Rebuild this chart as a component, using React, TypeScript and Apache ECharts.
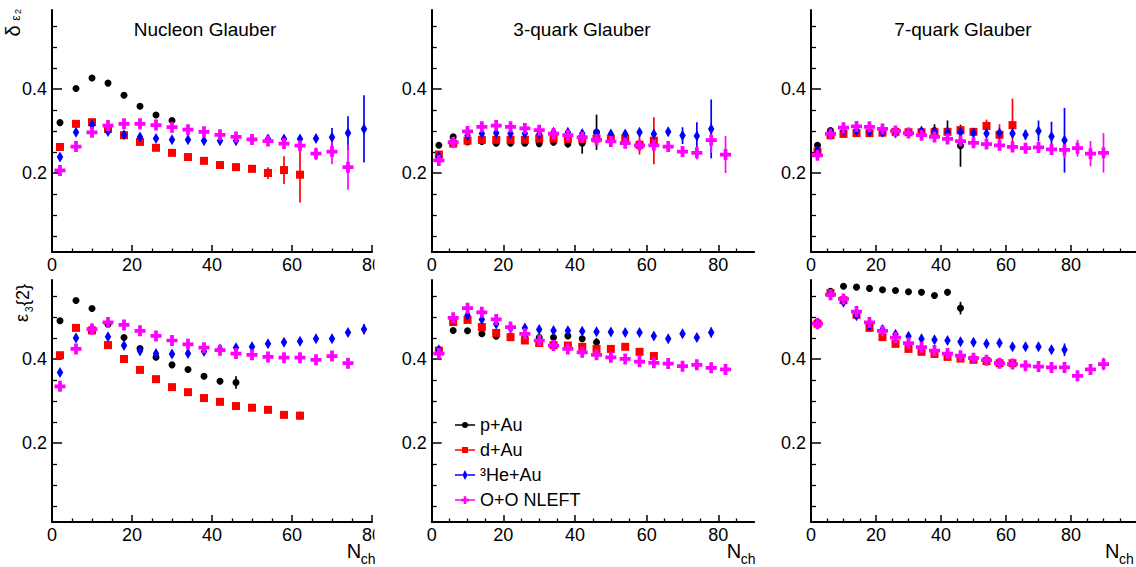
import React, { useEffect, useRef } from "react";
import * as echarts from "echarts";

// ---------- data ----------
const NCH = [2, 6, 10, 14, 18, 22, 26, 30, 34, 38, 42, 46, 50, 54, 58, 62, 66, 70, 74, 78, 82, 86, 90];

const SPECIES = ["p+Au", "d+Au", "³He+Au", "O+O NLEFT"];
const PANEL_TITLES = ["Nucleon Glauber", "3-quark Glauber", "7-quark Glauber"];
const X_TICKS = [0, 20, 40, 60, 80];
const X_MINOR = [5, 10, 15, 25, 30, 35, 45, 50, 55, 65, 70, 75, 85, 90, 95];
const Y_TICKS = [0.2, 0.4];
const Y_MINOR = [0.05, 0.1, 0.15, 0.25, 0.3, 0.35, 0.45, 0.5, 0.55];
const X_MAX = [80, 90, 100];
const Y_MIN = 0.012;
const Y_MAX = 0.588;

// Nucleon Glauber, delta_eps2
const nucE2_pAu = [0.320, 0.401, 0.426, 0.414, 0.385, 0.359, 0.338, 0.325];
const nucE2_pAu_err = [0.003, 0.003, 0.003, 0.003, 0.003, 0.003, 0.004, 0.006];
const nucE2_dAu = [0.262, 0.317, 0.321, 0.305, 0.290, 0.274, 0.260, 0.248, 0.238, 0.229, 0.219, 0.214, 0.210, 0.200, 0.207, 0.196];
const nucE2_dAu_err = [0.003, 0.003, 0.003, 0.003, 0.003, 0.003, 0.003, 0.003, 0.003, 0.003, 0.004, 0.004, 0.006, 0.014, 0.033, 0.066];
const nucE2_HeAu = [0.238, 0.297, 0.315, 0.299, 0.291, 0.286, 0.282, 0.279, 0.279, 0.277, 0.277, 0.277, 0.279, 0.281, 0.281, 0.281, 0.282, 0.285, 0.295, 0.305];
const nucE2_HeAu_err = [0.006, 0.005, 0.004, 0.003, 0.003, 0.003, 0.003, 0.003, 0.003, 0.003, 0.003, 0.003, 0.003, 0.004, 0.005, 0.006, 0.010, 0.022, 0.040, 0.080];
const nucE2_OO = [0.206, 0.263, 0.297, 0.313, 0.317, 0.317, 0.314, 0.309, 0.303, 0.298, 0.291, 0.286, 0.280, 0.276, 0.270, 0.265, 0.246, 0.251, 0.214];
const nucE2_OO_err = [0.004, 0.003, 0.003, 0.003, 0.003, 0.003, 0.003, 0.003, 0.003, 0.003, 0.003, 0.003, 0.004, 0.005, 0.008, 0.012, 0.015, 0.030, 0.054];

// Nucleon Glauber, eps3{2}
const nucE3_pAu = [0.491, 0.539, 0.520, 0.482, 0.451, 0.425, 0.404, 0.386, 0.375, 0.359, 0.347, 0.344];
const nucE3_pAu_err = [0.003, 0.003, 0.003, 0.003, 0.003, 0.003, 0.003, 0.003, 0.003, 0.004, 0.006, 0.015];
const nucE3_dAu = [0.409, 0.474, 0.468, 0.433, 0.400, 0.374, 0.352, 0.333, 0.321, 0.307, 0.298, 0.288, 0.284, 0.279, 0.267, 0.265];
const nucE3_dAu_err = [0.003, 0.003, 0.003, 0.003, 0.003, 0.003, 0.003, 0.003, 0.003, 0.003, 0.003, 0.003, 0.003, 0.004, 0.005, 0.010];
const nucE3_HeAu = [0.368, 0.450, 0.473, 0.453, 0.432, 0.419, 0.413, 0.412, 0.413, 0.418, 0.424, 0.427, 0.429, 0.436, 0.440, 0.442, 0.448, 0.448, 0.463, 0.471];
const nucE3_HeAu_err = [0.006, 0.005, 0.004, 0.004, 0.004, 0.004, 0.003, 0.003, 0.003, 0.003, 0.003, 0.003, 0.003, 0.003, 0.003, 0.004, 0.004, 0.005, 0.007, 0.012];
const nucE3_OO = [0.335, 0.424, 0.471, 0.487, 0.481, 0.467, 0.455, 0.444, 0.435, 0.427, 0.421, 0.413, 0.410, 0.405, 0.403, 0.403, 0.398, 0.407, 0.390];
const nucE3_OO_err = [0.003, 0.003, 0.003, 0.003, 0.003, 0.003, 0.003, 0.003, 0.003, 0.003, 0.003, 0.003, 0.003, 0.003, 0.003, 0.004, 0.004, 0.006, 0.012];

// 3-quark Glauber, delta_eps2
const q3E2_pAu = [0.266, 0.286, 0.274, 0.275, 0.271, 0.271, 0.271, 0.270, 0.273, 0.269, 0.271, 0.297];
const q3E2_pAu_err = [0.003, 0.003, 0.003, 0.003, 0.003, 0.003, 0.003, 0.003, 0.004, 0.008, 0.025, 0.042];
const q3E2_dAu = [0.244, 0.270, 0.277, 0.279, 0.279, 0.279, 0.279, 0.282, 0.282, 0.281, 0.281, 0.282, 0.282, 0.282, 0.267, 0.277];
const q3E2_dAu_err = [0.003, 0.003, 0.003, 0.003, 0.003, 0.003, 0.003, 0.003, 0.003, 0.003, 0.003, 0.004, 0.005, 0.008, 0.023, 0.056];
const q3E2_HeAu = [0.239, 0.274, 0.289, 0.294, 0.295, 0.294, 0.294, 0.293, 0.297, 0.297, 0.294, 0.296, 0.293, 0.293, 0.297, 0.293, 0.298, 0.289, 0.288, 0.305];
const q3E2_HeAu_err = [0.004, 0.003, 0.003, 0.003, 0.003, 0.003, 0.003, 0.003, 0.003, 0.003, 0.003, 0.003, 0.003, 0.004, 0.005, 0.006, 0.010, 0.020, 0.033, 0.070];
const q3E2_OO = [0.230, 0.273, 0.299, 0.310, 0.313, 0.310, 0.306, 0.302, 0.294, 0.290, 0.285, 0.279, 0.275, 0.271, 0.266, 0.266, 0.263, 0.251, 0.248, 0.278, 0.244];
const q3E2_OO_err = [0.004, 0.003, 0.003, 0.003, 0.003, 0.003, 0.003, 0.003, 0.003, 0.003, 0.003, 0.003, 0.003, 0.004, 0.005, 0.008, 0.006, 0.008, 0.015, 0.030, 0.044];

// 3-quark Glauber, eps3{2}
const q3E3_pAu = [0.422, 0.468, 0.467, 0.460, 0.454, 0.453, 0.450, 0.451, 0.451, 0.455, 0.448, 0.440];
const q3E3_pAu_err = [0.003, 0.003, 0.003, 0.003, 0.003, 0.003, 0.003, 0.003, 0.003, 0.003, 0.005, 0.010];
const q3E3_dAu = [0.420, 0.488, 0.493, 0.476, 0.462, 0.452, 0.444, 0.438, 0.433, 0.432, 0.429, 0.424, 0.424, 0.429, 0.417, 0.407];
const q3E3_dAu_err = [0.003, 0.003, 0.003, 0.003, 0.003, 0.003, 0.003, 0.003, 0.003, 0.003, 0.003, 0.003, 0.003, 0.003, 0.004, 0.008];
const q3E3_HeAu = [0.422, 0.495, 0.504, 0.494, 0.483, 0.474, 0.474, 0.470, 0.468, 0.467, 0.466, 0.465, 0.464, 0.463, 0.463, 0.455, 0.448, 0.460, 0.451, 0.463];
const q3E3_HeAu_err = [0.004, 0.003, 0.003, 0.003, 0.003, 0.003, 0.003, 0.003, 0.003, 0.003, 0.003, 0.003, 0.003, 0.003, 0.003, 0.004, 0.004, 0.005, 0.008, 0.012];
const q3E3_OO = [0.413, 0.498, 0.521, 0.511, 0.494, 0.476, 0.460, 0.444, 0.432, 0.424, 0.416, 0.410, 0.404, 0.400, 0.394, 0.391, 0.389, 0.383, 0.386, 0.379, 0.375];
const q3E3_OO_err = [0.004, 0.003, 0.003, 0.003, 0.003, 0.003, 0.003, 0.003, 0.003, 0.003, 0.003, 0.003, 0.003, 0.003, 0.003, 0.003, 0.004, 0.004, 0.005, 0.006, 0.010];

// 7-quark Glauber, delta_eps2
const q7E2_pAu = [0.266, 0.301, 0.297, 0.298, 0.296, 0.297, 0.297, 0.296, 0.296, 0.301, 0.300, 0.265];
const q7E2_pAu_err = [0.003, 0.003, 0.003, 0.003, 0.003, 0.003, 0.003, 0.003, 0.005, 0.015, 0.025, 0.050];
const q7E2_dAu = [0.251, 0.290, 0.293, 0.295, 0.295, 0.296, 0.298, 0.297, 0.297, 0.297, 0.298, 0.302, 0.298, 0.312, 0.291, 0.314];
const q7E2_dAu_err = [0.003, 0.003, 0.003, 0.003, 0.003, 0.003, 0.003, 0.003, 0.003, 0.003, 0.004, 0.005, 0.006, 0.015, 0.025, 0.063];
const q7E2_HeAu = [0.253, 0.294, 0.300, 0.301, 0.298, 0.297, 0.295, 0.295, 0.300, 0.298, 0.297, 0.297, 0.295, 0.294, 0.295, 0.294, 0.291, 0.300, 0.287, 0.278];
const q7E2_HeAu_err = [0.004, 0.003, 0.003, 0.003, 0.003, 0.003, 0.003, 0.003, 0.003, 0.003, 0.003, 0.004, 0.004, 0.005, 0.006, 0.008, 0.012, 0.025, 0.035, 0.077];
const q7E2_OO = [0.242, 0.293, 0.308, 0.311, 0.310, 0.305, 0.300, 0.295, 0.290, 0.286, 0.281, 0.276, 0.272, 0.269, 0.266, 0.262, 0.259, 0.261, 0.256, 0.255, 0.259, 0.246, 0.248];
const q7E2_OO_err = [0.004, 0.003, 0.003, 0.003, 0.003, 0.003, 0.003, 0.003, 0.003, 0.003, 0.003, 0.003, 0.003, 0.003, 0.004, 0.005, 0.006, 0.010, 0.012, 0.020, 0.020, 0.030, 0.047];

// 7-quark Glauber, eps3{2}
const q7E3_pAu = [0.488, 0.561, 0.573, 0.571, 0.568, 0.565, 0.563, 0.560, 0.559, 0.551, 0.559, 0.521];
const q7E3_pAu_err = [0.003, 0.003, 0.003, 0.003, 0.003, 0.003, 0.003, 0.003, 0.003, 0.004, 0.008, 0.015];
const q7E3_dAu = [0.484, 0.557, 0.540, 0.505, 0.474, 0.452, 0.436, 0.424, 0.417, 0.412, 0.405, 0.401, 0.398, 0.395, 0.390, 0.390];
const q7E3_dAu_err = [0.003, 0.003, 0.003, 0.003, 0.003, 0.003, 0.003, 0.003, 0.003, 0.003, 0.003, 0.003, 0.003, 0.003, 0.004, 0.010];
const q7E3_HeAu = [0.486, 0.555, 0.535, 0.503, 0.479, 0.470, 0.459, 0.454, 0.448, 0.446, 0.444, 0.441, 0.440, 0.436, 0.438, 0.429, 0.429, 0.429, 0.422, 0.422];
const q7E3_HeAu_err = [0.004, 0.003, 0.003, 0.003, 0.003, 0.003, 0.003, 0.003, 0.003, 0.003, 0.003, 0.003, 0.003, 0.003, 0.003, 0.004, 0.004, 0.005, 0.008, 0.015];
const q7E3_OO = [0.484, 0.553, 0.543, 0.513, 0.487, 0.467, 0.451, 0.438, 0.428, 0.420, 0.413, 0.408, 0.402, 0.397, 0.390, 0.388, 0.384, 0.382, 0.380, 0.380, 0.360, 0.375, 0.388];
const q7E3_OO_err = [0.003, 0.003, 0.003, 0.003, 0.003, 0.003, 0.003, 0.003, 0.003, 0.003, 0.003, 0.003, 0.003, 0.003, 0.003, 0.004, 0.004, 0.004, 0.005, 0.005, 0.006, 0.008, 0.015];

// ---------- styling ----------
const FONT = "'Liberation Sans', Arial, Helvetica, sans-serif";
const COLORS = ["#000000", "#ff0000", "#0000ff", "#ff00ff"];
const PLUS = "path://M33,0H67V33H100V67H67V100H33V67H0V33H33Z";
const SYMBOLS = ["circle", "rect", "diamond", PLUS];
const SYMBOL_SIZES: any[] = [7, 8, [6.5, 11], 11];

const ANCH = "M0,0h0.01v0.01h-0.01Z M19.99,9.99h0.01v0.01h-0.01Z ";
const seg = (a: number, b: number) => `M0,4.2H${a}V5.8H0Z M${b},4.2H20V5.8H${b}Z `;
const LEGEND_ICONS = [
  "path://" + ANCH + seg(7.2, 12.8) + "M7,5A3,3 0 1,1 13,5A3,3 0 1,1 7,5Z",
  "path://" + ANCH + seg(7, 13) + "M7,2H13V8H7Z",
  "path://" + ANCH + seg(7.6, 12.4) + "M10,0L12.5,5L10,10L7.5,5Z",
  "path://" + ANCH + seg(6.2, 13.8) + "M8.7,1.2H11.3V3.8H13.8V6.4H11.3V9H8.7V6.4H6.2V3.8H8.7Z",
];

// grid geometry (pixels)
const COL_LEFT = [52, 431.7, 811];
const COL_WIDTH = [320, 322.5, 327];
const ROW_TOP = [10, 280];
const ROW_H = 242;

const PANELS = [
  { col: 0, row: 0, vals: [nucE2_pAu, nucE2_dAu, nucE2_HeAu, nucE2_OO], errs: [nucE2_pAu_err, nucE2_dAu_err, nucE2_HeAu_err, nucE2_OO_err] },
  { col: 1, row: 0, vals: [q3E2_pAu, q3E2_dAu, q3E2_HeAu, q3E2_OO], errs: [q3E2_pAu_err, q3E2_dAu_err, q3E2_HeAu_err, q3E2_OO_err] },
  { col: 2, row: 0, vals: [q7E2_pAu, q7E2_dAu, q7E2_HeAu, q7E2_OO], errs: [q7E2_pAu_err, q7E2_dAu_err, q7E2_HeAu_err, q7E2_OO_err] },
  { col: 0, row: 1, vals: [nucE3_pAu, nucE3_dAu, nucE3_HeAu, nucE3_OO], errs: [nucE3_pAu_err, nucE3_dAu_err, nucE3_HeAu_err, nucE3_OO_err] },
  { col: 1, row: 1, vals: [q3E3_pAu, q3E3_dAu, q3E3_HeAu, q3E3_OO], errs: [q3E3_pAu_err, q3E3_dAu_err, q3E3_HeAu_err, q3E3_OO_err] },
  { col: 2, row: 1, vals: [q7E3_pAu, q7E3_dAu, q7E3_HeAu, q7E3_OO], errs: [q7E3_pAu_err, q7E3_dAu_err, q7E3_HeAu_err, q7E3_OO_err] },
];

function buildOption(): any {
  const grid: any[] = [];
  const xAxis: any[] = [];
  const yAxis: any[] = [];
  const scatter: any[] = [];
  const errors: any[] = [];

  PANELS.forEach((p, i) => {
    const xMax = X_MAX[p.col];
    grid.push({ left: COL_LEFT[p.col], top: ROW_TOP[p.row], width: COL_WIDTH[p.col], height: ROW_H, containLabel: false });
    xAxis.push({
      type: "value", gridIndex: i, min: 0, max: xMax, position: "bottom",
      axisLine: { show: true, onZero: false, lineStyle: { color: "#000", width: 2 } },
      axisTick: { show: true, inside: true, length: 7, customValues: X_TICKS, lineStyle: { color: "#000", width: 1.5 } },
      axisLabel: { show: true, customValues: X_TICKS, margin: 4, fontSize: 18, color: "#000", fontFamily: FONT },
      splitLine: { show: false },
    });
    xAxis.push({
      type: "value", gridIndex: i, min: 0, max: xMax, position: "bottom",
      axisLine: { show: false },
      axisTick: { show: true, inside: true, length: 3.5, customValues: X_MINOR.filter((v) => v < xMax), lineStyle: { color: "#000", width: 1.3 } },
      axisLabel: { show: false },
      splitLine: { show: false },
    });
    yAxis.push({
      type: "value", gridIndex: i, min: Y_MIN, max: Y_MAX, position: "left",
      axisLine: { show: true, onZero: false, lineStyle: { color: "#000", width: 2 } },
      axisTick: { show: true, inside: true, length: 10, customValues: Y_TICKS, lineStyle: { color: "#000", width: 1.5 } },
      axisLabel: { show: true, customValues: Y_TICKS, margin: 5, fontSize: 18, color: "#000", fontFamily: FONT, formatter: (v: number) => v.toFixed(1) },
      splitLine: { show: false },
    });
    yAxis.push({
      type: "value", gridIndex: i, min: Y_MIN, max: Y_MAX, position: "left",
      axisLine: { show: false },
      axisTick: { show: true, inside: true, length: 5, customValues: Y_MINOR, lineStyle: { color: "#000", width: 1.3 } },
      axisLabel: { show: false },
      splitLine: { show: false },
    });

    p.vals.forEach((vals, s) => {
      const color = COLORS[s];
      scatter.push({
        type: "scatter", name: SPECIES[s], xAxisIndex: 2 * i, yAxisIndex: 2 * i,
        data: vals.map((v, k) => [NCH[k], v]),
        symbol: SYMBOLS[s], symbolSize: SYMBOL_SIZES[s],
        itemStyle: { color, opacity: 1 }, z: 3 + s, silent: true,
      });
      const errs = p.errs[s];
      errors.push({
        type: "custom", name: SPECIES[s], xAxisIndex: 2 * i, yAxisIndex: 2 * i,
        data: vals.map((v, k) => [NCH[k], v, errs[k]]),
        encode: { x: 0, y: 1 },
        itemStyle: { color },
        z: 2 + s, silent: true,
        renderItem: (params: any, api: any) => {
          const x = api.value(0), y = api.value(1), e = api.value(2);
          const a = api.coord([x, y - e]);
          const b = api.coord([x, y + e]);
          return { type: "line", shape: { x1: a[0], y1: a[1], x2: b[0], y2: b[1] }, style: { stroke: color, lineWidth: 1.7 } };
        },
      });
    });
  });

  const txt = (text: string, x: number, y: number, size: number, opts: any = {}) => ({
    type: "text", x, y, z: 100, rotation: opts.rotation || 0,
    style: { text, fontSize: size, fontFamily: FONT, fill: "#000", align: opts.align || "center", verticalAlign: "middle" },
  });

  const R = Math.PI / 2;
  const graphic: any[] = [
    // clip the "80" labels of the left column like the reference pads
    { type: "rect", shape: { x: 374.5, y: 254, width: 50, height: 22 }, style: { fill: "#fff" }, z: 90 },
    { type: "rect", shape: { x: 374.5, y: 524, width: 50, height: 22 }, style: { fill: "#fff" }, z: 90 },
    txt(PANEL_TITLES[0], 205, 29.5, 19),
    txt(PANEL_TITLES[1], 582, 29.5, 19),
    txt(PANEL_TITLES[2], 963, 29.5, 19),
    // y titles (rotated, reading bottom to top)
    txt("δ", 12.8, 31, 20, { rotation: R }),
    txt("ε", 15.5, 18, 12, { rotation: R }),
    txt("2", 17.5, 11.5, 9, { rotation: R }),
    txt("ε", 22.3, 318, 18, { rotation: R }),
    txt("3", 29, 309.2, 10, { rotation: R }),
    txt("{2}", 22.5, 295, 18, { rotation: R }),
  ];
  [346.7, 726.7, 1105].forEach((nx) => {
    graphic.push(txt("N", nx, 550.5, 20, { align: "left" }));
    graphic.push(txt("ch", nx + 14, 558.5, 14, { align: "left" }));
  });

  return {
    animation: false,
    backgroundColor: "#ffffff",
    grid,
    xAxis,
    yAxis,
    legend: {
      show: true,
      orient: "vertical",
      left: 455,
      top: 416,
      padding: 0,
      itemGap: 7,
      itemWidth: 20,
      itemHeight: 10,
      itemTextGap: 2,
      selectedMode: false,
      textStyle: { fontSize: 18, color: "#000", fontFamily: FONT },
      data: SPECIES.map((name, s) => ({ name, icon: LEGEND_ICONS[s], itemStyle: { color: COLORS[s] } })),
    },
    series: [...scatter, ...errors],
    graphic,
  };
}

export default function App() {
  const ref = useRef<HTMLDivElement>(null);
  useEffect(() => {
    if (!ref.current) return;
    const chart = echarts.init(ref.current, undefined, { renderer: "svg" });
    chart.setOption(buildOption());
    return () => chart.dispose();
  }, []);
  return (
    <div
      ref={ref}
      style={{ position: "absolute", left: 0, top: 0, width: 1136, height: 567, background: "#fff" }}
    />
  );
}
